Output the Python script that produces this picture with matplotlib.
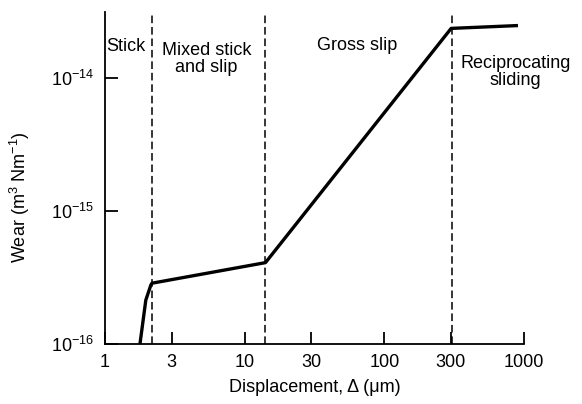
import numpy as np
import matplotlib.pyplot as plt

plt.rcParams['font.family'] = ['Liberation Sans', 'DejaVu Sans']
plt.rcParams['mathtext.fontset'] = 'custom'
plt.rcParams['mathtext.rm'] = 'Liberation Sans'
plt.rcParams['mathtext.it'] = 'Liberation Sans:italic'
plt.rcParams['mathtext.bf'] = 'Liberation Sans:bold'

# wear curve (displacement in um, wear in m^3 N^-1 m^-1)
disp = [1.78, 1.96, 2.13, 2.17, 14.1, 301, 906]
wear = [1.0e-16, 2.14e-16, 2.78e-16, 2.87e-16, 4.1e-16, 2.38e-14, 2.5e-14]

# regime boundaries
bounds = [2.17, 14.1, 306]
regimes = ['Stick', 'Mixed stick\nand slip', 'Gross slip', 'Reciprocating\nsliding']
regime_x = [1.41, 5.31, 64, 869]
regime_y = [1.74e-14, 1.41e-14, 1.77e-14, 1.11e-14]

xticks = [1, 3, 10, 30, 100, 300, 1000]
xticklabels = ['1', '3', '10', '30', '100', '300', '1000']
yticks = [1e-16, 1e-15, 1e-14]
yticklabels = [r'$10^{-16}$', r'$10^{-15}$', r'$10^{-14}$']

fig = plt.figure(figsize=(5.82, 4.04), dpi=100)
ax = fig.add_axes([0.1804, 0.1485, 0.7199, 0.8218])
ax.set_xscale('log')
ax.set_yscale('log')
ax.set_xlim(1, 1000)
ax.set_ylim(1e-16, 10 ** -13.5)

ax.plot(disp, wear, color='black', lw=2.4, solid_joinstyle='round', solid_capstyle='butt')
for b in bounds:
    ax.axvline(b, color='black', lw=1.1, ls=(0, (5, 2.5)))

for t, x, y in zip(regimes, regime_x, regime_y):
    ax.text(x, y, t, ha='center', va='center', fontsize=13, linespacing=1.0)

ax.spines['right'].set_visible(False)
ax.spines['top'].set_visible(False)
ax.spines['left'].set_linewidth(1.3)
ax.spines['bottom'].set_linewidth(1.3)

ax.set_xticks(xticks)
ax.set_xticklabels(xticklabels)
ax.set_yticks(yticks)
ax.set_yticklabels(yticklabels)
ax.minorticks_off()
ax.tick_params(direction='in', length=9, width=1.3, labelsize=13)
ax.tick_params(axis='x', pad=7)
ax.tick_params(axis='y', pad=8)

ax.set_xlabel('Displacement, Δ (μm)', fontsize=13, labelpad=6)
ax.set_ylabel(r'Wear (m$^3$ Nm$^{-1}$)', fontsize=13)
ax.yaxis.set_label_coords(-0.174, 0.443)

fig.savefig('out.png', dpi=100)
